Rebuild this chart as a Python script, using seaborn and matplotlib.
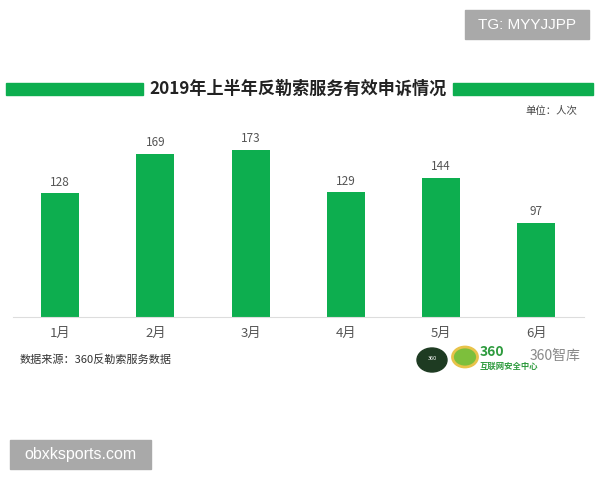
import matplotlib
matplotlib.use("Agg")
import matplotlib.pyplot as plt
import seaborn as sns
import pandas as pd
from matplotlib.patches import Rectangle, Circle

months = ["1月", "2月", "3月", "4月", "5月", "6月"]
values = [128, 169, 173, 129, 144, 97]
title = "2019年上半年反勒索服务有效申诉情况"
unit = "单位：人次"
source = "数据来源：360反勒索服务数据"

sns.set_theme(style="white")
plt.rcParams['font.family'] = ['Noto Sans CJK SC', 'DejaVu Sans']

green = "#0DAE4F"
df = pd.DataFrame({"month": months, "value": values})

fig = plt.figure(figsize=(6, 4.8), dpi=100)
ax = fig.add_axes([0.021, 0.3396, 0.952, 0.4025])
sns.barplot(data=df, x="month", y="value", color=green, width=0.4, ax=ax,
            saturation=1, edgecolor="none")
ax.set_ylim(0, 200)
ax.set_xlim(-0.5, 5.5)
for i, v in enumerate(values):
    ax.text(i, v + 5, str(v), ha="center", va="bottom", fontsize=8.5, color="#555555")
ax.set_xlabel("")
ax.set_ylabel("")
ax.set_yticks([])
for s in ["top", "right", "left"]:
    ax.spines[s].set_visible(False)
ax.spines["bottom"].set_color("#DDDDDD")
ax.spines["bottom"].set_linewidth(0.8)
ax.tick_params(axis="x", length=0, labelsize=9.5, colors="#555555", pad=7)


def px(x0, y0, w, h):
    return (x0 / 600, 1 - (y0 + h) / 480), w / 600, h / 480


# title with green side bars
fig.text(298.5 / 600, 1 - 89 / 480, title, ha="center", va="center", fontsize=12.3,
         fontweight="bold", color="#222222")
xy, w, h = px(6, 83, 137, 12)
fig.patches.append(Rectangle(xy, w, h, transform=fig.transFigure, color=green))
xy, w, h = px(453, 83, 140, 12)
fig.patches.append(Rectangle(xy, w, h, transform=fig.transFigure, color=green))
fig.text(577 / 600, 1 - 111 / 480, unit, ha="right", va="center", fontsize=7.5,
         color="#444444")

# source
fig.text(20 / 600, 1 - 360 / 480, source, ha="left", va="center", fontsize=8,
         color="#333333")

# logos (approximate)
fig.patches.append(Circle((432 / 600, 1 - 360 / 480), 12 / 480,
                          transform=fig.transFigure, color="#1E3B22"))
fig.text(432 / 600, 1 - 358 / 480, "360", ha="center", va="center", fontsize=4,
         color="white")
fig.patches.append(Circle((465 / 600, 1 - 357 / 480), 10 / 480,
                          transform=fig.transFigure, facecolor="#7DBF3C",
                          edgecolor="#E8C34A", linewidth=2))
fig.text(480 / 600, 1 - 352 / 480, "360", ha="left", va="center", fontsize=10,
         color="#2E9B3E", fontweight="bold")
fig.text(480 / 600, 1 - 366 / 480, "互联网安全中心", ha="left", va="center",
         fontsize=6, color="#2E9B3E", fontweight="bold")
fig.text(530 / 600, 1 - 356 / 480, "360智库", ha="left", va="center",
         fontsize=10, color="#888888")

# watermark boxes
xy, w, h = px(465, 10, 124, 29)
fig.patches.append(Rectangle(xy, w, h, transform=fig.transFigure, color="#A9A9A9"))
fig.text(527 / 600, 1 - 25 / 480, "TG: MYYJJPP", ha="center", va="center",
         fontsize=11, color="white", family=["Liberation Sans"])
xy, w, h = px(10, 440, 141, 29)
fig.patches.append(Rectangle(xy, w, h, transform=fig.transFigure, color="#A9A9A9"))
fig.text(80.5 / 600, 1 - 455 / 480, "obxksports.com", ha="center", va="center",
         fontsize=11.5, color="white", family=["Liberation Sans"])

fig.savefig("out.png", dpi=100, facecolor="white")
